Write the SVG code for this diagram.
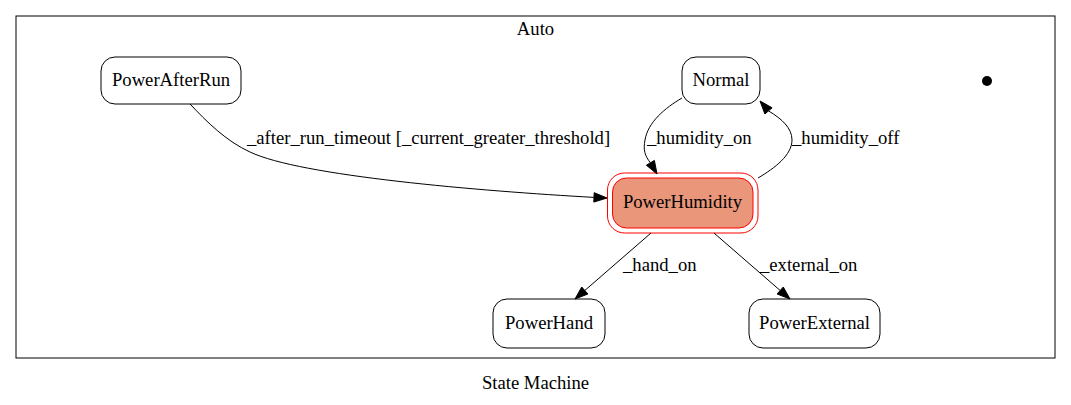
<svg xmlns="http://www.w3.org/2000/svg" width="1071" height="405" viewBox="0 0 1071 405">
<style>
text{font-family:'Liberation Serif','Times New Roman',serif;font-size:18.67px;fill:#000}
.st{fill:#fff;stroke:#000;stroke-width:1}
.c{text-anchor:middle}
.e{fill:none;stroke:#000;stroke-width:1}
.ah{fill:#000;stroke:#000;stroke-width:1}
</style>
<rect x="0" y="0" width="1071" height="405" fill="#fff"/>
<g id="cluster_auto">
<rect x="16" y="16" width="1039" height="342" fill="none" stroke="#000"/>
<text class="c" x="535.5" y="35">Auto</text>
</g>
<g id="PowerAfterRun"><rect class="st" x="101" y="57" width="140" height="47" rx="14"/><text class="c" x="171" y="86">PowerAfterRun</text></g>
<g id="Normal"><rect class="st" x="682" y="57" width="78" height="47" rx="14"/><text class="c" x="721" y="86">Normal</text></g>
<g id="PowerHumidity">
<rect x="607.5" y="173" width="150.5" height="60" rx="17" fill="none" stroke="#f00"/>
<rect x="612.5" y="178" width="140.5" height="50" rx="14" fill="#e9967a" stroke="#f00"/>
<text class="c" x="682.5" y="208">PowerHumidity</text></g>
<g id="PowerHand"><rect class="st" x="493" y="299" width="112" height="49" rx="14"/><text class="c" x="549" y="329">PowerHand</text></g>
<g id="PowerExternal"><rect class="st" x="749" y="299" width="131" height="49" rx="14"/><text class="c" x="814.5" y="329">PowerExternal</text></g>
<g id="initial"><circle cx="987" cy="81" r="5" fill="#000"/></g>
<g id="connectors">
<path class="e" d="M190,104 C207,122 226,141 250,152 C300,176 480,191 594,197.4"/>
<polygon class="ah" points="607,198 593.8,202.1 594.2,192.7"/>
<path class="e" d="M682,98 C665,108 648,122 645,140 C643,150 645,156 650.4,162.8"/>
<polygon class="ah" points="657,174 646.4,165.2 654.4,160.4"/>
<path class="e" d="M758,178 C775,168 792,155 792,140 C792,128 782,119 768.5,110.9"/>
<polygon class="ah" points="760,101 772.1,107.8 764.9,114"/>
<path class="e" d="M651,233 L584.8,290.5"/>
<polygon class="ah" points="575,299 587.9,294 581.7,287"/>
<path class="e" d="M714,233 L780.2,290.5"/>
<polygon class="ah" points="790,299 777.1,294 783.3,287"/>
<text x="247" y="144">_after_run_timeout [_current_greater_threshold]</text>
<text x="647" y="144">_humidity_on</text>
<text x="792" y="144">_humidity_off</text>
<text x="623" y="271">_hand_on</text>
<text x="760" y="271">_external_on</text>
</g>
<text class="c" x="535.5" y="389">State Machine</text>
</svg>
